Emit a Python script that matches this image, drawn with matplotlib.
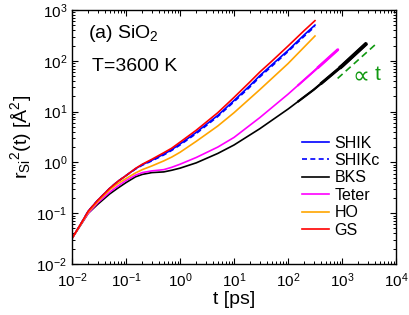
import numpy as np
import matplotlib
matplotlib.use("Agg")
import matplotlib.pyplot as plt
from matplotlib.ticker import LogLocator, NullFormatter

plt.rcParams['font.family'] = ['Liberation Sans', 'DejaVu Sans']
plt.rcParams['mathtext.fontset'] = 'custom'
plt.rcParams['mathtext.rm'] = 'Liberation Sans'
plt.rcParams['mathtext.it'] = 'Liberation Sans'
plt.rcParams['mathtext.default'] = 'regular'

# ---- data ----
t_gs = [0.01, 0.015, 0.02, 0.03, 0.05, 0.07, 0.1, 0.15, 0.2, 0.3, 0.5, 0.7, 1, 2, 3, 5, 10, 20, 30, 50, 100, 200, 316]
r_gs = [0.032, 0.065, 0.11, 0.18, 0.31, 0.42, 0.55, 0.76, 0.92, 1.15, 1.55, 1.9, 2.5, 4.3, 6.1, 9.5, 19, 39, 60, 98, 195, 395, 617]

t_shik = [0.01, 0.015, 0.02, 0.03, 0.05, 0.07, 0.1, 0.15, 0.2, 0.3, 0.5, 0.7, 1, 2, 3, 5, 10, 20, 30, 50, 100, 200, 316]
r_shik = [0.032, 0.065, 0.11, 0.18, 0.31, 0.42, 0.55, 0.75, 0.90, 1.10, 1.45, 1.78, 2.3, 3.9, 5.5, 8.4, 16.5, 33, 51, 83, 160, 325, 505]

t_shikc = [0.01, 0.015, 0.02, 0.03, 0.05, 0.07, 0.1, 0.15, 0.2, 0.3, 0.5, 0.7, 1, 2, 3, 5, 10, 20, 30, 50, 100, 200, 316]
r_shikc = [0.032, 0.065, 0.11, 0.18, 0.31, 0.42, 0.55, 0.74, 0.88, 1.07, 1.40, 1.72, 2.2, 3.7, 5.2, 8.0, 15.6, 31, 48, 78, 152, 305, 475]

t_bks = [0.01, 0.015, 0.02, 0.03, 0.05, 0.07, 0.1, 0.15, 0.2, 0.3, 0.5, 0.7, 1, 2, 5, 10, 30, 100, 300, 1000, 2860]
r_bks = [0.032, 0.062, 0.10, 0.15, 0.24, 0.31, 0.40, 0.52, 0.58, 0.63, 0.65, 0.70, 0.77, 0.98, 1.5, 2.2, 4.6, 11.2, 27, 79, 221]

t_teter = [0.01, 0.015, 0.02, 0.03, 0.05, 0.07, 0.1, 0.15, 0.2, 0.3, 0.5, 0.7, 1, 2, 5, 10, 30, 100, 300, 850]
r_teter = [0.032, 0.063, 0.10, 0.16, 0.26, 0.34, 0.44, 0.56, 0.63, 0.68, 0.72, 0.80, 0.92, 1.25, 2.0, 3.1, 7.6, 22, 62, 168]

t_ho = [0.01, 0.015, 0.02, 0.03, 0.05, 0.07, 0.1, 0.15, 0.2, 0.3, 0.5, 0.7, 1, 2, 5, 10, 30, 100, 316]
r_ho = [0.032, 0.064, 0.105, 0.17, 0.29, 0.38, 0.48, 0.62, 0.72, 0.85, 1.07, 1.27, 1.58, 2.6, 5.2, 9.5, 27, 88, 308]

guide_t = [830, 4070]
guide_r = [45, 205]

labels = ["SHIK", "SHIKc", "BKS", "Teter", "HO", "GS"]

# ---- figure ----
fig = plt.figure(figsize=(4.09, 3.15), dpi=100)
ax = fig.add_axes([72/409, 51/315, 324/409, 254/315])

lw = 1.2
ax.plot(t_shik, r_shik, color='#0000ff', lw=lw, label=labels[0])
ax.plot(t_shikc, r_shikc, color='#0000ff', lw=lw, ls=(0, (3, 2)), label=labels[1])
ax.plot(t_bks, r_bks, color='black', lw=lw, label=labels[2])
ax.plot(t_teter, r_teter, color='#ff00ff', lw=lw, label=labels[3])
ax.plot(t_ho, r_ho, color='#ffa500', lw=lw, label=labels[4])
ax.plot(t_gs, r_gs, color='#ff0000', lw=lw, label=labels[5])


def tail(ts, rs, color, stages):
    """Thicken the noisy long-time part progressively."""
    ts = np.array(ts); rs = np.array(rs)
    for tmin, w in stages:
        tt = np.logspace(np.log10(tmin), np.log10(ts[-1]), 40)
        rr = 10 ** np.interp(np.log10(tt), np.log10(ts), np.log10(rs))
        ax.plot(tt, rr, color=color, lw=w, solid_capstyle='butt')


tail(t_bks, r_bks, 'black', [(150, 1.6), (400, 2.2), (900, 2.8)])
tail(t_teter, r_teter, '#ff00ff', [(150, 1.5), (350, 2.1)])

ax.plot(guide_t, guide_r, color='#119911', lw=1.2, ls=(0, (4, 2.5)))

ax.set_xscale('log')
ax.set_yscale('log')
ax.set_xlim(1e-2, 1e4)
ax.set_ylim(1e-2, 1e3)

for axis in (ax.xaxis, ax.yaxis):
    axis.set_major_locator(LogLocator(base=10, numticks=20))
    axis.set_minor_locator(LogLocator(base=10, subs=np.arange(2, 10), numticks=100))
    axis.set_minor_formatter(NullFormatter())

ax.tick_params(which='both', direction='in', top=True, right=True, labelsize=11)
ax.tick_params(axis='x', which='major', pad=5)
ax.tick_params(which='major', length=4.5, width=0.8)
ax.tick_params(which='minor', length=2.3, width=0.7)
for s in ax.spines.values():
    s.set_linewidth(1.0)

ax.set_xlabel('t [ps]', fontsize=14, labelpad=1)
ax.set_ylabel(r'r$_{Si}$$^{2}$(t) [Å$^{2}$]', fontsize=14, labelpad=2)

ax.text(0.049, 0.909, r'(a) SiO$_2$', transform=ax.transAxes, fontsize=14, va='center', ha='left')
ax.text(0.062, 0.776, 'T=3600 K', transform=ax.transAxes, fontsize=14, va='center', ha='left')
ax.text(0.865, 0.74, '∝', transform=ax.transAxes, fontsize=17, va='center', ha='left',
        color='#119911', family=['DejaVu Sans'])
ax.text(0.935, 0.745, 't', transform=ax.transAxes, fontsize=15, va='center', ha='left',
        color='#119911')

h, l = ax.get_legend_handles_labels()
leg = ax.legend(h[:6], l[:6], loc='lower right', bbox_to_anchor=(0.985, 0.06), frameon=False,
                fontsize=11.5, handlelength=1.7, handletextpad=0.35, labelspacing=0.15,
                borderaxespad=0.3)

fig.savefig('out.png', dpi=100)
